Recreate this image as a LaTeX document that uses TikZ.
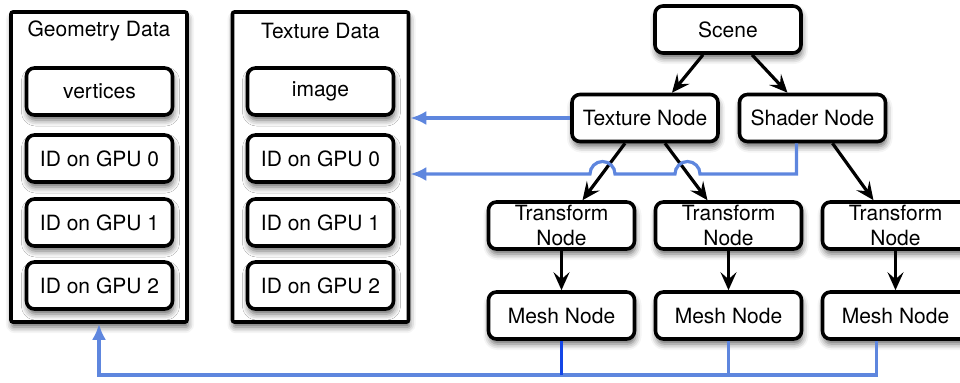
\documentclass[tikz,border=0pt]{standalone}
\usepackage{fontspec}
\setmainfont{TeX Gyre Heros}
\usepackage{tikz}
\usetikzlibrary{calc,arrows.meta,shadows.blur}
\definecolor{linkblue}{RGB}{94,134,222}
\definecolor{pickblue}{RGB}{20,70,230}
\tikzset{
	softshadow/.style={blur shadow={shadow xshift=0.5pt, shadow yshift=-2.5pt, shadow blur radius=3pt, shadow opacity=60}},
	box/.style={draw=black, line width=1.8pt, fill=white, rounded corners=4pt, minimum width=73pt, minimum height=23.5pt, inner sep=0pt, align=center, softshadow},
	datablock/.style={draw=black, line width=1.8pt, fill=white, rounded corners=1pt, minimum width=88pt, minimum height=155pt, inner sep=0pt, softshadow},
	arr/.style={line width=1.6pt, -{Stealth[length=9pt, width=8pt, inset=3.5pt]}},
	link/.style={draw=linkblue, line width=1.6pt, -{Latex[length=8pt, width=7pt]}}
}

\begin{document}
\begin{tikzpicture}[x=0.5pt, y=-0.5pt, font=\fontsize{10.5}{12.5}\selectfont]
		%%%%% START %%%%%
		\useasboundingbox (0,0) rectangle (960,382);
		
		\node[datablock] (geo) at (99,167) {};
		\node (geotitle) at (99,31) {Geometry Data};
		\node[box] (vert) at (99.5,91.5) {vertices};
		
		\node[datablock] (texdata) at (320.5,167) {};
		\node (textitle) at (320.5,31) {Texture Data};
		\node[box] (image) at (320.5,91.5) {image};
		
		\foreach \i/\y in {0/158.5, 1/222.5, 2/285.5} {
			\node[box] (geogpu\i) at (99.5,\y) {ID on GPU \i};
			\node[box] (texgpu\i) at (320.5,\y) {ID on GPU \i};
		}
		
		\node[box] (scene) at (728,29.5) {Scene};
		\node[box] (texnode) at (645,118) {Texture Node};
		\node[box] (shader) at (812.5,118) {Shader Node};
		
		\foreach \i/\x in {1/561.5, 2/728.5, 3/895.5} {
			\node[box] (trans\i) at (\x,225.5) {Transform\\Node};
			\node[box] (mesh\i) at (\x,315.5) {Mesh Node};
			\draw[arr] (trans\i) -- (mesh\i);
		}
		
		\draw[arr] ($(scene.south)+(-25,0)$) -- ($(texnode.north)+(27,0)$);
		\draw[arr] ($(scene.south)+(24,0)$) -- ($(shader.north)+(-25,0)$);
		\draw[arr] ($(texnode.south)+(-20,0)$) -- ($(trans1.north)+(21,0)$);
		\draw[arr] ($(texnode.south)+(20,0)$) -- ($(trans2.north)+(-21,0)$);
		\draw[arr] ($(shader.south)+(20,0)$) -- ($(trans3.north)+(-22,0)$);
		
		% blue links back to the data blocks
		\coordinate (hopy) at (0,174);
		\coordinate (busy) at (0,375);
		\draw[link] (texnode.west) -- (texnode.west -| texdata.east);
		\draw[link] ($(shader.south)+(-16,0)$) |- (700,174)
			arc[start angle=0, end angle=180, radius=6.25pt] -- (615,174)
			arc[start angle=0, end angle=180, radius=6.25pt] -- (texdata.east |- hopy);
		\draw[link] ($(mesh3.south)+(-19,0)$) |- (geo.south |- busy) -- (geo.south);
		\draw[link, -] (mesh2.south) -- (mesh2.south |- busy);
		\draw[link, -, draw=pickblue] (mesh1.south) -- (mesh1.south |- busy);
		%%%%% END %%%%%
\end{tikzpicture}
\end{document}
